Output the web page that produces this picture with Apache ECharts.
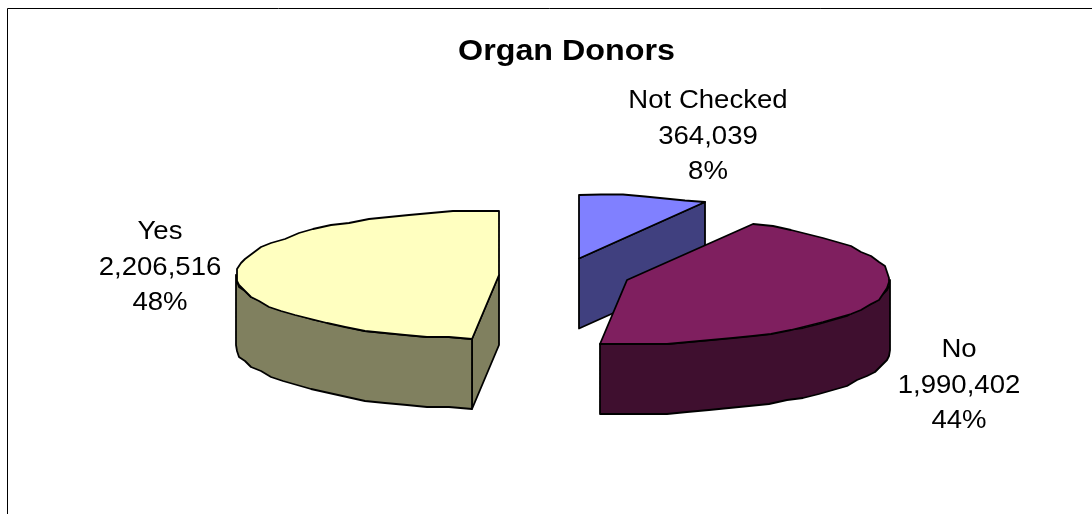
<!DOCTYPE html>
<html>
<head>
<meta charset="utf-8">
<style>html,body{margin:0;padding:0;background:#fff}#c{width:1092px;height:514px}</style>
<script src="https://cdn.jsdelivr.net/npm/echarts@6/dist/echarts.min.js"></script>
</head>
<body>
<div id="c"></div>
<script>
const chartTitle = 'Organ Donors';
const categories = ['Not Checked', 'No', 'Yes'];
const donorCounts = [364039, 1990402, 2206516];

const total = donorCounts.reduce((a, b) => a + b, 0);
const FONT = '"Liberation Sans", Arial, sans-serif';
const LABEL_STRETCH = 1.06, TITLE_STRETCH = 1.075;
const RX = 263, RY = 64, DEPTH = 70, STEP = 5, SNAP = 2;

const apexes = [[579, 258.5], [627, 280], [499, 275]];
const topColors = ['#8080FF', '#7F1F5F', '#FFFFC0'];
const sideColors = ['#40407F', '#3F0F2F', '#80805F'];
const drawRank = [0, 2, 1];
const labelCenters = [[708, 101], [959, 350], [160, 232]];
const LINE = 35.5;

function renderSlice(params, api) {
  const i = params.dataIndex;
  const value = api.value(0);
  let before = 0;
  for (let k = 0; k < i; k++) before += donorCounts[k];
  const a0 = before / total * 360, a1 = (before + value) / total * 360;
  const [ax, ay] = apexes[i];
  const snap = v => Math.round(v / SNAP) * SNAP;
  const exact = (deg, dz) => {
    const t = deg * Math.PI / 180;
    return [Math.round(ax + RX * Math.sin(t)), Math.round(ay - RY * Math.cos(t)) + (dz || 0)];
  };
  const pt = (deg, dz) => {
    const t = deg * Math.PI / 180;
    return [ax + snap(RX * Math.sin(t)), ay + snap(-RY * Math.cos(t)) + (dz || 0)];
  };
  const arc = (from, to, dz) => {
    const out = [];
    const n = Math.max(1, Math.ceil((to - from) / STEP));
    for (let k = 0; k <= n; k++) {
      const d = from + (to - from) * k / n;
      out.push(k === 0 || k === n ? exact(d, dz) : pt(d, dz));
    }
    return out;
  };
  const face = (points, fill, z2) => ({
    type: 'polygon', silent: true, z2,
    shape: { points },
    style: { fill, stroke: '#000', lineWidth: 1.8, lineJoin: 'round' }
  });
  const base = drawRank[i] * 10;
  const children = [];
  const apexTop = [ax, ay], apexBottom = [ax, ay + DEPTH];
  const sinA0 = Math.sin(a0 * Math.PI / 180), sinA1 = Math.sin(a1 * Math.PI / 180);
  if (sinA0 < -1e-6) {
    const p = exact(a0);
    children.push(face([apexTop, p, [p[0], p[1] + DEPTH], apexBottom], sideColors[i], base + 1));
  }
  if (sinA1 > 1e-6) {
    const p = exact(a1);
    children.push(face([apexTop, p, [p[0], p[1] + DEPTH], apexBottom], sideColors[i], base + 1));
  }
  const w0 = Math.max(a0, 90), w1 = Math.min(a1, 270);
  if (w1 > w0) {
    children.push(face(arc(w0, w1, 0).concat(arc(w0, w1, DEPTH).reverse()), sideColors[i], base + 2));
  }
  children.push(face([apexTop].concat(arc(a0, a1, 0)), topColors[i], base + 3));

  const lines = [categories[i], value.toLocaleString('en-US'), Math.round(value / total * 100) + '%'];
  lines.forEach((text, k) => {
    children.push({
      type: 'text', silent: true, z2: 100,
      x: labelCenters[i][0], y: labelCenters[i][1] + k * LINE, scaleX: LABEL_STRETCH,
      style: { text, fill: '#000', font: '26px ' + FONT, textAlign: 'center', textVerticalAlign: 'middle' }
    });
  });
  return { type: 'group', children };
}

const chart = echarts.init(document.getElementById('c'), null, { width: 1092, height: 514 });
chart.setOption({
  animation: false,
  backgroundColor: '#fff',
  graphic: [
    { type: 'polyline', silent: true, shape: { points: [[7.5, 514], [7.5, 8.5], [1092, 8.5]] },
      style: { stroke: '#000', lineWidth: 1, fill: null } },
    { type: 'text', silent: true, x: 566.5, y: 51.5, scaleX: TITLE_STRETCH,
      style: { text: chartTitle, fill: '#000', font: 'bold 30px ' + FONT, textAlign: 'center', textVerticalAlign: 'middle' } }
  ],
  series: [{
    type: 'custom',
    coordinateSystem: 'none',
    renderItem: renderSlice,
    data: donorCounts.map((v, i) => ({ name: categories[i], value: [v] }))
  }]
});
</script>
</body>
</html>
